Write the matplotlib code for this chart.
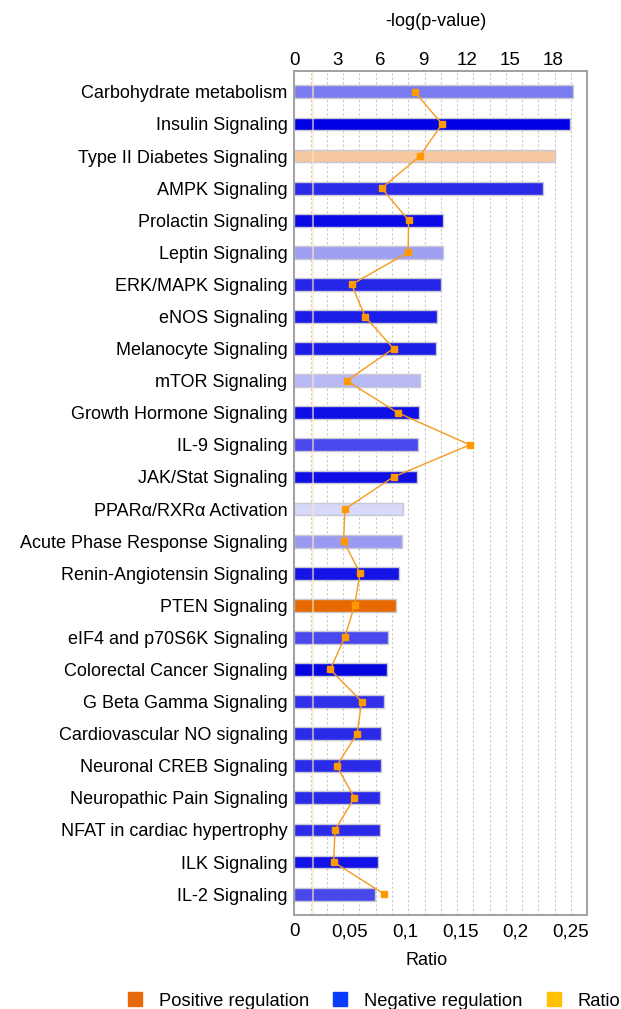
import matplotlib
matplotlib.use('Agg')
import matplotlib.pyplot as plt
from matplotlib.lines import Line2D
import numpy as np

plt.rcParams['font.family'] = ['Liberation Sans', 'DejaVu Sans']

pathways = ['Carbohydrate metabolism', 'Insulin Signaling', 'Type II Diabetes Signaling',
            'AMPK Signaling', 'Prolactin Signaling', 'Leptin Signaling', 'ERK/MAPK Signaling',
            'eNOS Signaling', 'Melanocyte Signaling', 'mTOR Signaling', 'Growth Hormone Signaling',
            'IL-9 Signaling', 'JAK/Stat Signaling', 'PPARα/RXRα Activation',
            'Acute Phase Response Signaling', 'Renin-Angiotensin Signaling', 'PTEN Signaling',
            'eIF4 and p70S6K Signaling', 'Colorectal Cancer Signaling', 'G Beta Gamma Signaling',
            'Cardiovascular NO signaling', 'Neuronal CREB Signaling', 'Neuropathic Pain Signaling',
            'NFAT in cardiac hypertrophy', 'ILK Signaling', 'IL-2 Signaling']
logp = [19.45, 19.2, 18.2, 17.35, 10.34, 10.38, 10.2, 9.92, 9.85, 8.73, 8.66, 8.6, 8.52,
        7.57, 7.53, 7.32, 7.06, 6.53, 6.46, 6.22, 6.04, 6.01, 5.95, 5.95, 5.85, 5.64]
ratio = [0.109, 0.1336, 0.1136, 0.079, 0.1033, 0.103, 0.0518, 0.0639, 0.0897, 0.0473,
         0.0936, 0.1588, 0.0897, 0.0457, 0.0445, 0.0594, 0.0545, 0.0455, 0.0324, 0.0609,
         0.0567, 0.0382, 0.0543, 0.0367, 0.0355, 0.0812]
bar_colors = ['#7b7bf0', '#0000e6', '#f5c8a0', '#2a2ae8', '#0a0ae6', '#a0a0f2', '#2626e8',
              '#1c1ce8', '#1c1ce8', '#b8b8f5', '#0e0ee6', '#4848ec', '#1010e6', '#d8d8f8',
              '#9a9af0', '#1414e6', '#e66a00', '#4848ec', '#0606e0', '#3030ea', '#2a2ae8',
              '#2a2ae8', '#2a2ae8', '#2a2ae8', '#1212e6', '#4848ec']
top_ticks = [0, 3, 6, 9, 12, 15, 18]
bottom_ticks = [0, 0.05, 0.1, 0.15, 0.2, 0.25]
bottom_labels = ['0', '0,05', '0,1', '0,15', '0,2', '0,25']
threshold = 1.3

fig = plt.figure(figsize=(6.21, 10.09), dpi=100)
ax = fig.add_axes([0.4742, 0.0932, 0.4711, 0.8364])
y = np.arange(len(pathways))

ax.barh(y, logp, height=0.4, color=bar_colors, edgecolor='#c8c8d4', linewidth=1, zorder=2)
ax.axvline(threshold, color='#fbe6c6', alpha=0.6, linewidth=1.5, zorder=3)
# dashed grid
for k in range(1, 18):
    ax.plot([k / 18, k / 18], [0, 1], transform=ax.transAxes, color='#c8c8c8',
            linestyle=(0, (2, 2)), linewidth=0.8, zorder=1)
ax.set_xlim(0, 20.4)
ax.set_ylim(len(pathways) - 0.35, -0.65)
ax.set_yticks(y)
ax.set_yticklabels(pathways, fontsize=13)
ax.tick_params(axis='y', length=0, pad=5)

ax2 = ax.twiny()
ax2.plot(ratio, y, color='#f59a1c', linewidth=1, marker='s', markersize=4.5,
         markerfacecolor='#ff9900', markeredgecolor='#ff9900', zorder=4)
ax2.set_xlim(0, 0.265)
ax2.xaxis.set_ticks_position('bottom')
ax2.xaxis.set_label_position('bottom')
ax2.set_xticks(bottom_ticks)
ax2.set_xticklabels(bottom_labels, fontsize=13.5)
ax2.set_xlabel('Ratio', fontsize=13)
ax2.xaxis.set_label_coords(0.45, -0.044)
ax2.tick_params(axis='x', length=0, pad=6)

ax.xaxis.set_ticks_position('top')
ax.xaxis.set_label_position('top')
ax.set_xticks(top_ticks)
ax.set_xticklabels([str(t) for t in top_ticks], fontsize=13.5)
ax.set_xlabel('-log(p-value)', fontsize=13)
ax.xaxis.set_label_coords(0.485, 1.053)
ax.tick_params(axis='x', length=0, pad=1.5)

for a in (ax, ax2):
    for s in a.spines.values():
        s.set_color('#a0a0a0')
        s.set_linewidth(1.2)

handles = [Line2D([], [], marker='s', linestyle='none', markersize=10.5, color=c)
           for c in ['#e8690a', '#0a3cff', '#ffc000']]
fig.legend(handles, ['Positive regulation', 'Negative regulation', 'Ratio'],
           loc='lower left', bbox_to_anchor=(0.176, -0.017), ncol=3, frameon=False,
           fontsize=13.2, handletextpad=0.8, columnspacing=1.2, handlelength=1.0)

fig.savefig('out.png', dpi=100)
